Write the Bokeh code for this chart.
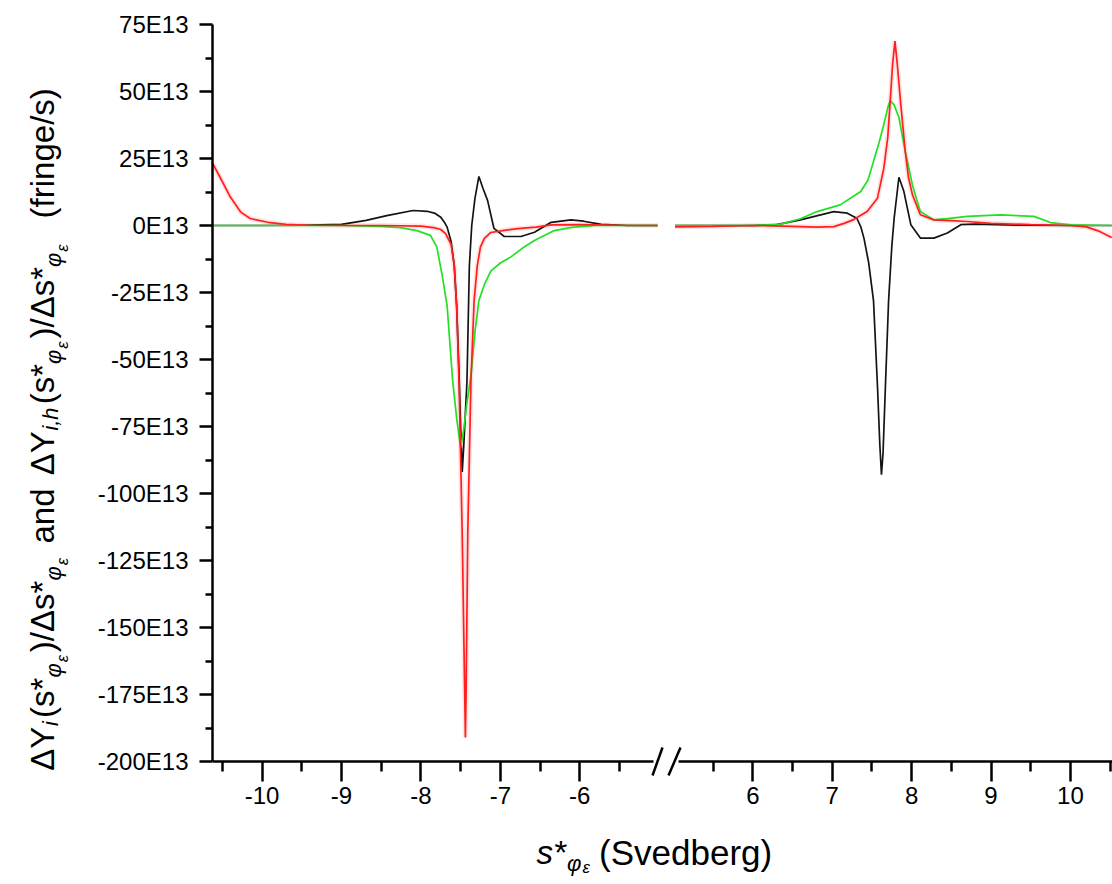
import math
from bokeh.plotting import figure
from bokeh.layouts import column, row
from bokeh.models import FixedTicker, Label
from bokeh.embed import file_html
from bokeh.resources import INLINE

# ---------------- data (x in Svedberg, y in units of 1E13 fringe/s) ----------------
# left part of the broken axis
RED_L_X = [-10.62, -10.53, -10.40, -10.27, -10.15, -9.93, -9.70, -9.40, -9.00, -8.50, -8.00, -7.84,
           -7.75, -7.69, -7.62, -7.58, -7.55, -7.52, -7.48, -7.45, -7.44, -7.43, -7.41, -7.37,
           -7.33, -7.29, -7.25, -7.20, -7.12, -6.95, -6.78, -6.55, -6.36, -6.00, -5.50, -5.02]
RED_L_Y = [23.0, 18.0, 10.6, 5.0, 2.6, 1.2, 0.4, 0.1, 0.0, 0.0, -0.2, -0.8,
           -1.5, -3.0, -7.0, -15.0, -30.0, -58.0, -115.0, -172.0, -191.0, -172.0, -115.0, -58.0,
           -28.0, -15.0, -8.0, -4.8, -2.6, -1.8, -1.2, -0.6, 0.2, 0.3, 0.1, 0.0]

BLACK_L_X = [-10.62, -10.00, -9.50, -9.00, -8.69, -8.43, -8.10, -7.92, -7.82, -7.75, -7.70, -7.67,
             -7.62, -7.58, -7.55, -7.52, -7.50, -7.48, -7.46, -7.42, -7.39, -7.36, -7.32, -7.27,
             -7.22, -7.16, -7.08, -6.95, -6.74, -6.57, -6.36, -6.11, -5.95, -5.73, -5.40, -5.02]
BLACK_L_Y = [0.0, 0.0, 0.1, 0.4, 1.9, 3.7, 5.6, 5.3, 4.5, 3.1, 1.0, -0.6,
             -6.0, -15.0, -30.0, -55.0, -75.0, -92.0, -82.0, -58.0, -15.0, 0.0, 10.0, 18.3,
             14.0, 9.3, -1.1, -4.1, -4.1, -2.5, 1.2, 2.1, 1.6, 0.4, 0.0, 0.0]

GREEN_L_X = [-10.62, -9.50, -9.00, -8.50, -8.26, -8.05, -7.88, -7.80, -7.73, -7.67, -7.60, -7.55,
             -7.50, -7.46, -7.42, -7.37, -7.32, -7.27, -7.20, -7.12, -7.00, -6.87, -6.70, -6.57,
             -6.32, -6.10, -5.80, -5.40, -5.02]
GREEN_L_Y = [0.0, 0.0, 0.0, -0.3, -0.8, -1.9, -3.7, -8.0, -19.0, -30.0, -58.0, -72.0,
             -83.0, -76.0, -66.0, -56.0, -40.0, -28.0, -22.0, -17.0, -14.0, -11.8, -8.0, -5.6,
             -1.9, -0.7, 0.0, 0.0, 0.0]

# right part of the broken axis
RED_R_X = [5.02, 5.50, 6.00, 6.50, 6.80, 7.02, 7.15, 7.27, 7.44, 7.57, 7.65, 7.70, 7.73, 7.76, 7.79,
           7.82, 7.86, 7.92, 7.96, 8.01, 8.11, 8.28, 8.50, 8.70, 9.00, 9.50, 10.00, 10.20, 10.35, 10.52]
RED_R_Y = [-0.5, -0.3, 0.0, -0.3, -0.6, -0.4, 0.8, 2.2, 5.2, 10.2, 21.4, 33.0, 46.3, 60.0, 68.8,
           60.0, 46.3, 27.6, 18.0, 11.5, 4.0, 2.1, 1.8, 1.5, 0.8, 0.3, 0.0, -0.5, -2.0, -4.5]

GREEN_R_X = [5.02, 6.00, 6.35, 6.60, 6.81, 7.10, 7.36, 7.45, 7.52, 7.59, 7.65, 7.70, 7.73,
             7.78, 7.84, 7.92, 8.01, 8.11, 8.28, 8.45, 8.70, 9.12, 9.54, 9.75, 10.00, 10.52]
GREEN_R_Y = [0.0, 0.0, 0.5, 2.5, 5.2, 7.7, 12.7, 17.0, 23.9, 31.0, 37.7, 44.0, 46.6,
             45.0, 40.3, 27.6, 15.1, 5.2, 2.1, 2.6, 3.4, 4.0, 3.4, 1.1, 0.2, 0.0]

BLACK_R_X = [5.02, 6.00, 6.30, 6.60, 7.02, 7.19, 7.31, 7.36, 7.40, 7.46, 7.52, 7.57, 7.60, 7.62, 7.64,
             7.67, 7.71, 7.75, 7.78, 7.84, 7.90, 7.99, 8.11, 8.28, 8.45, 8.62, 8.80, 9.20, 10.00, 10.52]
BLACK_R_Y = [0.0, 0.0, 0.3, 2.1, 5.2, 4.6, 2.7, -0.5, -4.8, -14.0, -28.0, -60.0, -82.0, -93.0, -85.0,
             -60.0, -28.0, -8.0, 2.7, 18.0, 13.0, 0.3, -4.7, -4.7, -2.8, 0.3, 0.5, 0.2, 0.0, 0.0]

# ticks
Y_TICKS = [-200, -175, -150, -125, -100, -75, -50, -25, 0, 25, 50, 75]
Y_TICK_LABELS = ["-200E13", "-175E13", "-150E13", "-125E13", "-100E13", "-75E13",
                 "-50E13", "-25E13", "0E13", "25E13", "50E13", "75E13"]
Y_MINOR = [-187.5, -162.5, -137.5, -112.5, -87.5, -62.5, -37.5, -12.5, 12.5, 37.5, 62.5]
X_TICKS_L = [-10, -9, -8, -7, -6]
X_TICK_LABELS_L = ["-10", "-9", "-8", "-7", "-6"]
X_MINOR_L = [-10.5, -9.5, -8.5, -7.5, -6.5, -5.5]
X_TICKS_R = [6, 7, 8, 9, 10]
X_TICK_LABELS_R = ["6", "7", "8", "9", "10"]
X_MINOR_R = [5.5, 6.5, 7.5, 8.5, 9.5, 10.5]

# ---------------- layout / style ----------------
FONT = "Liberation Sans"
W, H_PLOT = 1112, 826
H_LABEL = 884 - H_PLOT
W_YLAB = 90                        # strip holding the rotated y title
FL, FT, FAX = 212, 24, 761         # frame left / top, x-axis row (page px)
FB = H_PLOT                        # frame runs to the bottom of the plot row
SPLIT = 666                        # where the two halves meet
PX = 79.4                          # pixels per Svedberg
PY = (FAX - FT) / 275.0            # pixels per 1E13
Y_TOP = 75
Y_AXIS = -200
Y_BOT = Y_AXIS - (FB - FAX) / PY
XL0 = -10.625
XL1 = XL0 + (SPLIT - FL) / PX
XR1 = 10.53
XR0 = XR1 - (W - SPLIT) / PX
C_BLACK, C_GREEN, C_RED = "#141414", "#22e022", "#ff1f1f"


def ydat(cy):
    return Y_TOP - (cy - FT) / PY


def make_fig(width, x0, x1, left_border, show_y):
    p = figure(width=width, height=H_PLOT, x_range=(x0, x1), y_range=(Y_BOT, Y_TOP),
               output_backend="svg", toolbar_location=None, title_location=None,
               min_border_left=left_border, min_border_right=0,
               min_border_top=FT, min_border_bottom=0,
               y_axis_location="left" if show_y else None)
    p.grid.visible = False
    p.outline_line_color = None
    ax = p.xaxis[0]
    ax.fixed_location = Y_AXIS
    ax.axis_line_width = 2.5
    ax.major_tick_line_width = 2.5
    ax.minor_tick_line_width = 2.5
    ax.major_tick_in = 0
    ax.major_tick_out = 20
    ax.minor_tick_in = 0
    ax.minor_tick_out = 10
    ax.major_label_standoff = 5
    ax.major_label_text_font = FONT
    ax.major_label_text_font_size = "24px"
    ax.major_label_text_color = "black"
    if show_y:
        ay = p.yaxis[0]
        ay.bounds = (Y_AXIS, Y_TOP)
        ay.ticker = FixedTicker(ticks=Y_TICKS, minor_ticks=Y_MINOR)
        ay.major_label_overrides = dict(zip(Y_TICKS, Y_TICK_LABELS))
        ay.axis_line_width = 2.5
        ay.major_tick_line_width = 2.5
        ay.minor_tick_line_width = 2.5
        ay.major_tick_in = 0
        ay.major_tick_out = 13
        ay.minor_tick_in = 0
        ay.minor_tick_out = 7
        ay.major_label_standoff = 11
        ay.major_label_text_font = FONT
        ay.major_label_text_font_size = "24px"
        ay.major_label_text_color = "black"
    return p


p1 = make_fig(SPLIT - W_YLAB, XL0, XL1, FL - W_YLAB, True)
p2 = make_fig(W - SPLIT, XR0, XR1, 0, False)
p1.xaxis[0].ticker = FixedTicker(ticks=X_TICKS_L, minor_ticks=X_MINOR_L)
p1.xaxis[0].major_label_overrides = dict(zip(X_TICKS_L, X_TICK_LABELS_L))
p1.xaxis[0].bounds = (XL0, XL0 + (653 - FL) / PX)
p2.xaxis[0].ticker = FixedTicker(ticks=X_TICKS_R, minor_ticks=X_MINOR_R)
p2.xaxis[0].major_label_overrides = dict(zip(X_TICKS_R, X_TICK_LABELS_R))
p2.xaxis[0].bounds = (XR0 + (678 - SPLIT) / PX, XR1)

for p, series in ((p1, [(BLACK_L_X, BLACK_L_Y, C_BLACK), (GREEN_L_X, GREEN_L_Y, C_GREEN), (RED_L_X, RED_L_Y, C_RED)]),
                  (p2, [(BLACK_R_X, BLACK_R_Y, C_BLACK), (GREEN_R_X, GREEN_R_Y, C_GREEN), (RED_R_X, RED_R_Y, C_RED)])):
    for xs, ys, c in series:
        if c == C_RED:
            p.line(xs, ys, line_color=c, line_width=5, line_alpha=0.12)
    for xs, ys, c in series:
        p.line(xs, ys, line_color=c, line_width=1.7)

# axis break marks "//"
p1.segment(x0=[XL0 + (652 - FL) / PX], y0=[ydat(775)], x1=[XL0 + (662 - FL) / PX], y1=[ydat(747)],
           line_width=2.5, line_color="black")
p2.segment(x0=[XR0 + (668 - SPLIT) / PX], y0=[ydat(775)], x1=[XR0 + (680 - SPLIT) / PX], y1=[ydat(747)],
           line_width=2.5, line_color="black")

# ---------------- composed axis titles with sub / sub-sub scripts ----------------
EM = {"Δ": 0.668, "Y": 0.667, "i": 0.222, "(": 0.333, ")": 0.333, "s": 0.5, "*": 0.389, "/": 0.278,
      " ": 0.278, "a": 0.556, "n": 0.556, "d": 0.556, "h": 0.556, ",": 0.278, "f": 0.278, "r": 0.333,
      "g": 0.556, "e": 0.556, "φ": 0.70, "ε": 0.46, "S": 0.667, "v": 0.5, "b": 0.556}


def twidth(t, fs):
    return sum(EM.get(ch, 0.556) for ch in t) * fs


def strip(width, height):
    p = figure(frame_width=width, frame_height=height, x_range=(0, width), y_range=(0, height),
               output_backend="svg", toolbar_location=None, min_border=0, title_location=None,
               x_axis_location=None, y_axis_location=None)
    p.grid.visible = False
    p.outline_line_color = None
    return p


# (text, font style, relative size, baseline drop in px, gap before in em, gap after in em)
SUBS = [("φ", "italic", 0.66, 11, 0.0, 0.0), ("ε", "italic", 0.5, 19, 0.0, 0.08)]
YLABEL = ([("ΔY", "normal", 1, 0, 0, 0), ("i", "italic", 0.66, 8, 0.02, 0.1), ("(s*", "normal", 1, 0, 0, 0)]
          + SUBS + [(")/Δs*", "normal", 1, 0, 0, 0)] + SUBS
          + [("and", "normal", 1, 0, 0.35, 0.4), ("ΔY", "normal", 1, 0, 0, 0), ("i,h", "italic", 0.66, 8, 0.02, 0.1),
             ("(s*", "normal", 1, 0, 0, 0)] + SUBS + [(")/Δs*", "normal", 1, 0, 0, 0)] + SUBS
          + [("(fringe/s)", "normal", 1, 0, 0.7, 0)])
py = strip(W_YLAB, H_PLOT)
FY = 33
total = sum(twidth(t, FY * r) + (gb + ga) * FY for t, s, r, d, gb, ga in YLABEL)
cy = 405 + total / 2
for t, s, r, d, gb, ga in YLABEL:
    cy -= gb * FY
    fs = FY * r
    py.add_layout(Label(x=42 + d, y=H_PLOT - cy, text=t, angle=math.pi / 2, text_font=FONT,
                        text_font_size=f"{fs:.1f}px", text_font_style=s, text_align="left",
                        text_baseline="alphabetic", text_color="black"))
    cy -= twidth(t, fs) + ga * FY

p3 = strip(W, H_LABEL)
FX = 35
XLABEL = [("s*", "italic", 0.95, 0, 0, 0), ("φ", "italic", 0.63, 11, 0.03, 0), ("ε", "italic", 0.48, 15, 0, 0.0),
          ("(Svedberg)", "normal", 1, 0, 0.25, 0)]
cx = 536
for t, s, r, d, gb, ga in XLABEL:
    cx += gb * FX
    fs = FX * r
    p3.add_layout(Label(x=cx, y=884 - (852 + d), text=t, text_font=FONT,
                        text_font_size=f"{fs:.1f}px", text_font_style=s, text_align="left",
                        text_baseline="alphabetic", text_color="black"))
    cx += twidth(t, fs) + ga * FX

layout = column(row(py, p1, p2), p3)
open("out.html", "w").write(file_html(layout, INLINE))
